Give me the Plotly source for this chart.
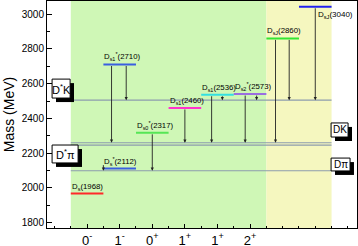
import plotly.graph_objects as go

# ---- data ----
state_labels = ["D<sub>s</sub>(1968)", "D<sub>s</sub><sup>*</sup>(2112)", "D<sub>s0</sub><sup>*</sup>(2317)",
                "D<sub>s1</sub><sup>*</sup>(2710)", "D<sub>s1</sub>(2460)", "D<sub>s1</sub>(2536)",
                "D<sub>s2</sub><sup>*</sup>(2573)", "D<sub>sJ</sub>(2860)", "D<sub>sJ</sub>(3040)"]
state_cat = [0, 1, 2, 1, 3, 4, 5, 6, 7]
state_mass = [1968, 2112, 2317, 2710, 2460, 2536, 2540, 2860, 3042]
state_colors = ["#ff2a2a", "#3a5fe0", "#55e655", "#3a5fe0", "#ff33cc", "#33e0e0", "#9a6ee0", "#33e633", "#2020f0"]

threshold_mass = [2505, 2260, 2246, 2099]
threshold_names = ["D<sup>*</sup>K", "D<sup>*</sup>π", "DK", "Dπ"]

# arrows: (category offset x, from mass, to mass)
arrow_x = [0.75, 1.2, 0.5, 2.0, 3.0, 3.82, 4.15, 4.85, 5.2, 5.78, 6.2, 7.0]
arrow_from = [2710, 2710, 2140, 2317, 2460, 2536, 2536, 2540, 2540, 2860, 2860, 3042]
arrow_to = [2260, 2505, 2099, 2099, 2260, 2260, 2505, 2260, 2505, 2260, 2505, 2505]

tick_vals = [0, 1, 2, 3, 4, 5]
tick_text = ["0<sup>-</sup>", "1<sup>-</sup>", "0<sup>+</sup>", "1<sup>+</sup>", "1<sup>+</sup>", "2<sup>+</sup>"]

fig = go.Figure()

# level lines
for lab, c, m, col in zip(state_labels, state_cat, state_mass, state_colors):
    fig.add_trace(go.Scatter(x=[c - 0.5, c + 0.5], y=[m, m], mode="lines",
                             line=dict(color=col, width=2), showlegend=False, hoverinfo="skip"))

shapes = [
    dict(type="rect", xref="x", yref="paper", x0=-0.5, x1=5.5, y0=0, y1=1,
         fillcolor="#cff7b6", line=dict(width=0), layer="below"),
    dict(type="rect", xref="x", yref="paper", x0=5.5, x1=7.5, y0=0, y1=1,
         fillcolor="#f5f7bf", line=dict(width=0), layer="below"),
]
for t in threshold_mass:
    shapes.append(dict(type="line", xref="x", yref="y", x0=-0.5, x1=7.5, y0=t, y1=t,
                       line=dict(color="#8d9cae", width=1.2)))

annotations = []
for lab, c, m in zip(state_labels, state_cat, state_mass):
    if "3040" in lab:
        annotations.append(dict(x=c + 0.02, y=m, text=lab, showarrow=False, xanchor="left",
                                yanchor="top", yshift=-1, font=dict(size=8, color="black", family="Arial")))
    else:
        annotations.append(dict(x=c - 0.5, y=m, text=lab, showarrow=False, xanchor="left",
                                yanchor="bottom", yshift=0, xshift=-1,
                                font=dict(size=7.8, color="black", family="Arial")))

for xa, f, t in zip(arrow_x, arrow_from, arrow_to):
    annotations.append(dict(x=xa, y=t, ax=xa, ay=f, xref="x", yref="y", axref="x", ayref="y",
                            text="", showarrow=True, arrowhead=2, arrowsize=0.7, arrowwidth=0.9,
                            arrowcolor="#222222", standoff=0))

# labeled boxes with drop shadow (x0, x1, y_top, y_bottom in axis units)
boxes = [(-1.074, -0.521, 2626, 2517, threshold_names[0]),
         (-1.074, -0.276, 2247, 2144, threshold_names[1]),
         (7.485, 8.006, 2374, 2293, threshold_names[2]),
         (7.485, 8.067, 2172, 2098, threshold_names[3])]
sdx, sdy = 0.12, 23
for x0, x1, yt, yb, txt in boxes:
    shapes.append(dict(type="rect", xref="x", yref="y", x0=x0 + sdx, x1=x1 + sdx, y0=yb - sdy, y1=yt - sdy,
                       fillcolor="black", line=dict(width=0), layer="above"))
    shapes.append(dict(type="rect", xref="x", yref="y", x0=x0, x1=x1, y0=yb, y1=yt,
                       fillcolor="white", line=dict(color="black", width=1), layer="above"))
    annotations.append(dict(x=(x0 + x1) / 2, y=(yt + yb) / 2, text=txt, showarrow=False,
                            font=dict(size=11 if len(txt) > 3 else 10, color="black", family="Arial")))

fig.update_layout(
    width=358, height=246,
    margin=dict(l=47, r=1, t=1, b=18, autoexpand=False),
    paper_bgcolor="white", plot_bgcolor="white",
    shapes=shapes, annotations=annotations,
    showlegend=False,
    xaxis=dict(range=[-1.23, 8.28], tickvals=tick_vals, ticktext=tick_text,
               showgrid=False, zeroline=False, showline=True, linecolor="black", linewidth=1,
               mirror=True, ticks="inside", ticklen=4, tickcolor="black",
               minor=dict(dtick=0.5, tick0=0, ticks="inside", ticklen=2, tickcolor="black"),
               tickfont=dict(size=13, family="Arial", color="black")),
    yaxis=dict(range=[1770, 3075], tickvals=[1800, 2000, 2200, 2400, 2600, 2800, 3000],
               showgrid=False, zeroline=False, showline=True, linecolor="black", linewidth=1,
               mirror=True, ticks="inside", ticklen=5, tickcolor="black",
               minor=dict(dtick=100, tick0=1800, ticks="inside", ticklen=3, tickcolor="black"),
               tickfont=dict(size=10, family="Arial", color="black"),
               title=dict(text="Mass (MeV)", font=dict(size=14, family="Arial", color="black"), standoff=3)),
)

fig.write_html("out.html", config={"displayModeBar": False},
               post_script="document.body.style.margin='0';document.body.style.overflow='hidden';")
